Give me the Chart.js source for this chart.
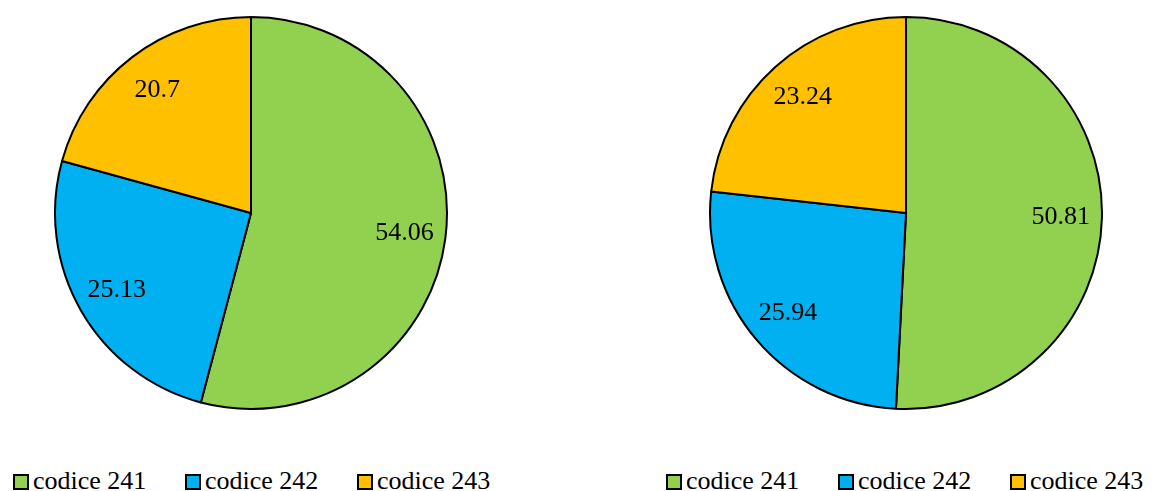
<!DOCTYPE html>
<html>
<head>
<meta charset="utf-8">
<script src="https://cdn.jsdelivr.net/npm/chart.js@4.4.0/dist/chart.umd.min.js"></script>
<style>
    html, body { margin: 0; padding: 0; background: #fff; }
    body { width: 1156px; height: 491px; position: relative; overflow: hidden; font-family: "Liberation Serif", Tinos, "Times New Roman", "DejaVu Serif", serif; }
    .pie { position: absolute; top: 14px; width: 398px; height: 398px; }
    .legend { position: absolute; top: 467px; display: flex; font-size: 26px; line-height: 28px; color: #000; }
    .legend .item { display: flex; align-items: center; width: 172px; }
    .legend .box { width: 12px; height: 12px; border: 2px solid #000; margin-right: 4px; margin-top: 2px; box-sizing: content-box; }
</style>
</head>
<body>
<div class="pie" style="left:52px"><canvas id="pieKiri"></canvas></div>
<div class="pie" style="left:707px"><canvas id="pieKanan"></canvas></div>
<div class="legend" id="legendKiri" style="left:13px"></div>
<div class="legend" id="legendKanan" style="left:666px"></div>
<script>
// kategori dan nilai tiap pie
const categories = ['codice 241', 'codice 242', 'codice 243'];
const valuesKiri = [54.06, 25.13, 20.7];
const valuesKanan = [50.81, 25.94, 23.24];
const sliceColors = ['#92D050', '#00B0F0', '#FFC000'];

const fontLabel = '26px "Liberation Serif", Tinos, "Times New Roman", "DejaVu Serif", serif';

// tulis nilai di tengah tiap irisan
const sliceLabels = {
    id: 'sliceLabels',
    afterDatasetsDraw(chart) {
        const ctx = chart.ctx;
        const data = chart.data.datasets[0].data;
        chart.getDatasetMeta(0).data.forEach((arc, i) => {
            const mid = (arc.startAngle + arc.endAngle) / 2;
            const r = arc.outerRadius * 0.79;
            ctx.save();
            ctx.font = fontLabel;
            ctx.fillStyle = '#000';
            ctx.textAlign = 'center';
            ctx.textBaseline = 'middle';
            ctx.fillText(String(data[i]), arc.x + Math.cos(mid) * r, arc.y + Math.sin(mid) * r);
            ctx.restore();
        });
    }
};

function buatPie(id, values) {
    new Chart(document.getElementById(id), {
        type: 'pie',
        data: {
            labels: categories,
            datasets: [{
                data: values,
                backgroundColor: sliceColors,
                borderColor: '#000',
                borderWidth: 2
            }]
        },
        options: {
            responsive: true,
            maintainAspectRatio: false,
            animation: false,
            layout: { padding: 2 },
            plugins: { legend: { display: false }, tooltip: { enabled: false } }
        },
        plugins: [sliceLabels]
    });
}

function buatLegend(id) {
    const wrap = document.getElementById(id);
    categories.forEach((nama, i) => {
        const item = document.createElement('div');
        item.className = 'item';
        const box = document.createElement('span');
        box.className = 'box';
        box.style.background = sliceColors[i];
        const teks = document.createElement('span');
        teks.textContent = nama;
        item.appendChild(box);
        item.appendChild(teks);
        wrap.appendChild(item);
    });
}

buatPie('pieKiri', valuesKiri);
buatPie('pieKanan', valuesKanan);
buatLegend('legendKiri');
buatLegend('legendKanan');
</script>
</body>
</html>
